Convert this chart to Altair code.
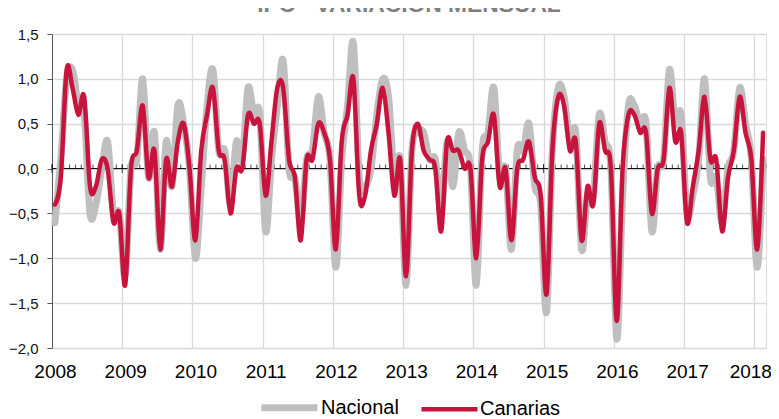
import altair as alt
import pandas as pd

FONT = "Liberation Sans"

years = [2008, 2009, 2010, 2011, 2012, 2013, 2014, 2015, 2016, 2017, 2018]
series = ["Nacional", "Canarias"]
series_colors = ["#bfbfbf", "#c8143c"]
series_widths = [7, 4.5]

# monthly variation (%), Jan 2008 .. Feb 2018
nacional = [
    -0.6, 0.1, 1.0, 1.1, 0.7, 0.6, -0.5, -0.4, 0.0, 0.3, -0.5, -0.5,   # 2008
    -1.2, 0.0, 0.1, 1.0, -0.1, 0.4, -0.9, 0.3, -0.2, 0.7, 0.5, 0.0,    # 2009
    -1.0, -0.2, 0.7, 1.1, 0.2, 0.2, -0.4, 0.3, 0.1, 0.9, 0.6, 0.6,     # 2010
    -0.7, 0.1, 0.7, 1.2, 0.0, -0.1, -0.6, 0.1, 0.2, 0.8, 0.4, 0.1,     # 2011
    -1.1, 0.1, 0.7, 1.4, -0.1, -0.2, 0.0, 0.6, 1.0, 0.8, -0.1, 0.1,    # 2012
    -1.3, 0.2, 0.4, 0.4, 0.1, 0.1, -0.5, 0.3, -0.2, 0.4, 0.2, 0.0,     # 2013
    -1.3, 0.2, 0.4, 0.9, -0.1, 0.0, -0.9, 0.2, 0.2, 0.5, -0.2, -0.4,   # 2014
    -1.6, 0.2, 0.9, 0.8, 0.3, 0.4, -0.9, -0.3, -0.3, 0.6, 0.3, 0.0,    # 2015
    -1.9, -0.3, 0.7, 0.7, 0.5, 0.5, -0.7, 0.0, 0.1, 1.1, 0.5, 0.6,     # 2016
    -0.5, -0.3, 0.1, 1.0, -0.1, -0.1, -0.6, 0.0, 0.2, 0.9, 0.5, 0.1,   # 2017
    -1.1, 0.1,                                                          # 2018
]
canarias = [
    -0.4, -0.1, 1.1, 0.9, 0.6, 0.8, -0.2, -0.2, 0.1, 0.0, -0.6, -0.5,  # 2008
    -1.3, 0.0, 0.2, 0.7, -0.1, 0.2, -0.9, 0.1, -0.2, 0.3, 0.5, 0.0,    # 2009
    -0.8, 0.2, 0.6, 0.9, 0.2, 0.1, -0.5, 0.0, 0.0, 0.6, 0.5, 0.5,      # 2010
    -0.3, 0.3, 0.9, 0.9, 0.1, -0.1, -0.8, 0.1, 0.1, 0.5, 0.4, 0.1,     # 2011
    -0.9, 0.3, 0.6, 1.0, -0.3, -0.3, 0.2, 0.5, 0.9, 0.4, -0.3, 0.1,    # 2012
    -1.2, 0.2, 0.5, 0.2, 0.1, 0.0, -0.7, 0.3, 0.2, 0.2, 0.0, 0.0,      # 2013
    -1.0, 0.1, 0.3, 0.6, -0.2, 0.0, -0.8, 0.0, 0.1, 0.3, -0.1, -0.3,   # 2014
    -1.4, 0.2, 0.8, 0.7, 0.2, 0.3, -0.8, -0.2, -0.4, 0.5, 0.2, 0.0,    # 2015
    -1.7, 0.0, 0.6, 0.6, 0.4, 0.4, -0.5, 0.0, 0.1, 0.9, 0.3, 0.4,      # 2016
    -0.6, -0.2, 0.2, 0.8, 0.1, 0.1, -0.7, -0.1, 0.2, 0.8, 0.4, 0.1,    # 2017
    -0.9, 0.4,                                                          # 2018
]
y_ticks = [-2.0, -1.5, -1.0, -0.5, 0.0, 0.5, 1.0, 1.5]

n = len(nacional)
rows = []
for i, (a, b) in enumerate(zip(nacional, canarias)):
    rows.append({"m": i + 0.5, "serie": "Nacional", "v": a})
    rows.append({"m": i + 0.5, "serie": "Canarias", "v": b})
df = pd.DataFrame(rows)

month_bounds = pd.DataFrame({"m": list(range(0, n + 1))})
year_vals = [12 * i for i in range(len(years))]
year_bounds = pd.DataFrame({"m": year_vals})
zero_df = pd.DataFrame({"z": [0]})

x_scale = alt.Scale(domain=[0, n], nice=False, zero=False)
y_scale = alt.Scale(domain=[y_ticks[0], y_ticks[-1]], nice=False, zero=False)

x_axis = alt.Axis(
    values=year_vals,
    labelExpr=f"toString({years[0]} + datum.value/12)",
    title=None, grid=True, gridColor="#d9d9d9", gridWidth=1.3,
    ticks=False, tickSize=0, domain=False,
    labelFont=FONT, labelFontSize=19, labelColor="#000000",
    labelPadding=14,
    labelOffset={"condition": {"test": f"datum.value >= {year_vals[-1]}", "value": -4},
                 "value": 3},
    labelFlush=False, labelOverlap=False, labelBound=False,
)
y_axis = alt.Axis(
    values=y_ticks,
    labelExpr="replace(format(datum.value, '.1f'), '.', ',')",
    title=None, grid=True, gridColor="#d9d9d9", gridWidth=1.3,
    domain=True, domainColor="#595959", domainWidth=1,
    ticks=True, tickColor="#595959", tickSize=5,
    labelFont=FONT, labelFontSize=15, labelColor="#111111",
    labelPadding=9,
)

X = alt.X("m:Q", scale=x_scale, axis=x_axis)

legend = alt.Legend(
    title=None, orient="none", direction="horizontal",
    legendX=206, legendY=342,
    symbolType="stroke", symbolSize=3136,
    labelFont=FONT, labelFontSize=20, labelColor="#000000",
    labelOffset=0, columnPadding=13, padding=0,
)
color = alt.Color("serie:N", scale=alt.Scale(domain=series, range=series_colors), legend=legend)
swidth = alt.StrokeWidth("serie:N", scale=alt.Scale(domain=series, range=series_widths), legend=legend)

zero_line = alt.Chart(zero_df).mark_rule(color="#000000", strokeWidth=1).encode(
    y=alt.Y("z:Q", scale=y_scale, axis=y_axis)
)
minor_ticks = alt.Chart(month_bounds).mark_tick(
    orient="vertical", color="#000000", thickness=1, size=4, yOffset=-2
).encode(x=X, y=alt.datum(0))
major_ticks = alt.Chart(year_bounds).mark_tick(
    orient="vertical", color="#000000", thickness=1, size=9
).encode(x=X, y=alt.datum(0))


def series_line(name):
    return alt.Chart(df).transform_filter(alt.datum.serie == name).mark_line(
        interpolate="cardinal", tension=0, strokeCap="round", strokeJoin="round"
    ).encode(
        x=X,
        y=alt.Y("v:Q", scale=y_scale, axis=y_axis),
        color=color,
        strokeWidth=swidth,
    )


chart = alt.layer(
    zero_line, minor_ticks, major_ticks,
    series_line("Nacional"), series_line("Canarias"),
).properties(
    width=714, height=314,
    title=alt.TitleParams(
        "IPC - VARIACIÓN MENSUAL", anchor="middle", font=FONT, fontSize=22.8,
        fontWeight="bold", color="#7f7f7f", baseline="alphabetic", offset=4, dy=12,
    ),
    autosize=alt.AutoSizeParams(type="none"),
    padding={"left": 44, "top": 26, "right": 5, "bottom": 74},
).configure_view(stroke=None).configure(background="#ffffff")

chart.save("out.html", embed_options={"renderer": "svg", "actions": False})
